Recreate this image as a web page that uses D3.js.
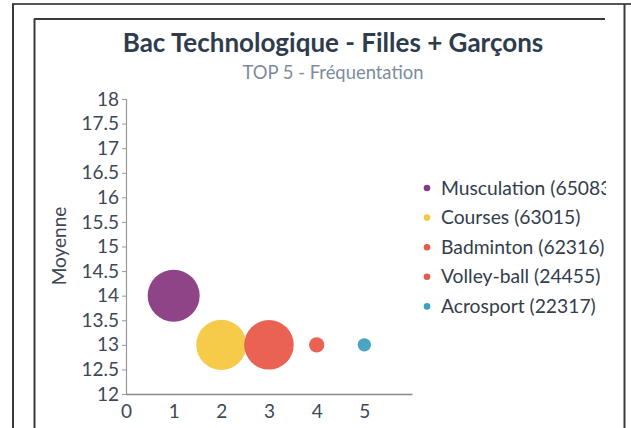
<!DOCTYPE html>
<html>
<head>
<meta charset="utf-8">
<script src="https://cdn.jsdelivr.net/npm/d3@7"></script>
<style>
body { margin: 0; background: #fff; }
text { font-family: Lato, "Open Sans", sans-serif; }
</style>
</head>
<body>
<div id="chart"></div>
<script>
'use strict'

const sports = ["Musculation", "Courses", "Badminton", "Volley-ball", "Acrosport"]
const counts = [65083, 63015, 62316, 24455, 22317]
const xPos = [1, 2, 3, 4, 5]
const moyennes = [14, 13, 13, 13, 13]
const colors = ["#883a80", "#f5c840", "#e85a4a", "#e85a4a", "#3fa0bf"]
const yTicks = [12, 12.5, 13, 13.5, 14, 14.5, 15, 15.5, 16, 16.5, 17, 17.5, 18]
const xTicks = [0, 1, 2, 3, 4, 5]

const width = 631, height = 428

let svg = d3.select("#chart").append("svg").attr("width", width).attr("height", height)

// frames around the chart
let frame = svg.append("g").attr("stroke", "#3a3a3a").attr("stroke-width", 2)
frame.append("line").attr("x1", 12).attr("x2", 631).attr("y1", 4).attr("y2", 4).attr("stroke", "#555")
frame.append("line").attr("x1", 13).attr("x2", 13).attr("y1", 4).attr("y2", 428)
frame.append("line").attr("x1", 624.5).attr("x2", 624.5).attr("y1", 4).attr("y2", 428)
frame.append("line").attr("x1", 34).attr("x2", 605).attr("y1", 19).attr("y2", 19)
frame.append("line").attr("x1", 34.5).attr("x2", 34.5).attr("y1", 19).attr("y2", 428)

svg.append("text").attr("x", 333).attr("y", 52).attr("text-anchor", "middle")
	.attr("font-size", 26).attr("font-weight", "bold").attr("fill", "#2e3c4c")
	.text("Bac Technologique - Filles + Garçons")
svg.append("text").attr("x", 333).attr("y", 79).attr("text-anchor", "middle")
	.attr("font-size", 18.4).attr("fill", "#7d8b9c")
	.text("TOP 5 - Fréquentation")

let xScale = d3.scaleLinear().domain([0, 6]).range([126, 412])
let yScale = d3.scaleLinear().domain([12, 18]).range([394, 99])
let rScale = d3.scaleLinear().domain(d3.extent(counts)).range([6.7, 26])

let yAxis = svg.append("g").attr("transform", "translate(126,0)")
	.call(d3.axisLeft(yScale).tickValues(yTicks).tickSize(4).tickPadding(3).tickFormat(d3.format("")))
yAxis.select(".domain").attr("stroke", "#999").attr("stroke-width", 1.2)
yAxis.selectAll(".tick line").attr("stroke", "#999")
yAxis.selectAll(".tick text").attr("font-size", 19).attr("fill", "#3d4756").attr("font-family", "Lato")

let xAxis = svg.append("g").attr("transform", "translate(0,394)")
	.call(d3.axisBottom(xScale).tickValues(xTicks).tickSize(0).tickPadding(11).tickFormat(d3.format("d")))
xAxis.select(".domain").attr("stroke", "#888").attr("stroke-width", 1.5)
xAxis.selectAll(".tick text").attr("font-size", 19).attr("fill", "#3d4756").attr("font-family", "Lato")

svg.append("text").attr("transform", "translate(66,246) rotate(-90)").attr("text-anchor", "middle")
	.attr("font-size", 19).attr("fill", "#3d4756").text("Moyenne")

let points = sports.map(function(s, i){
	return {name: s, count: counts[i], x: xPos[i], y: moyennes[i], color: colors[i]}
})

svg.append("g").selectAll("circle")
	.data(points)
	.enter()
	.append("circle")
	.attr("cx", function(d){ return xScale(d.x) })
	.attr("cy", function(d){ return yScale(d.y) })
	.attr("r", function(d){ return rScale(d.count) })
	.attr("fill", function(d){ return d.color })
	.attr("fill-opacity", 0.95)

// legend, clipped by the inner frame
svg.append("clipPath").attr("id", "legclip").append("rect")
	.attr("x", 400).attr("y", 150).attr("width", 206).attr("height", 200)
let legend = svg.append("g").attr("clip-path", "url(#legclip)")
let rows = legend.selectAll("g").data(points).enter().append("g")
	.attr("transform", function(d, i){ return "translate(427," + (188 + i * 29.6) + ")" })
rows.append("circle").attr("r", 3.3).attr("fill", function(d){ return d.color })
rows.append("text").attr("x", 14).attr("y", 6.5).attr("font-size", 19.3).attr("fill", "#333d4c")
	.text(function(d){ return d.name + " (" + d.count + ")" })
</script>
</body>
</html>
